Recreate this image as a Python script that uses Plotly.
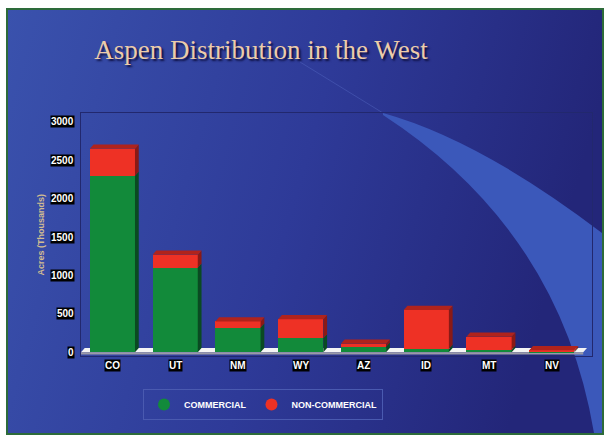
import base64
import plotly.graph_objects as go

# ---- data ----
categories = ["CO", "UT", "NM", "WY", "AZ", "ID", "MT", "NV"]
commercial = [2300, 1100, 320, 180, 70, 40, 30, 5]
non_commercial = [350, 170, 80, 250, 40, 510, 170, 20]
y_ticks = [0, 500, 1000, 1500, 2000, 2500, 3000]

W, H = 606, 440
ML, MR, MT, MB = 81, 14, 113, 84
PW, PH = W - ML - MR, H - MT - MB

GREEN, RED = "#128a3a", "#ee3125"
GREEN_SIDE, RED_SIDE, RED_TOP = "#0a4a22", "#8a1a16", "#b0231c"
BAR_W, DX, DY = 0.72, 0.06, 55

# ---- background as an svg image ----
svg = f'''<svg xmlns="http://www.w3.org/2000/svg" width="{W}" height="{H}" viewBox="0 0 {W} {H}">
<defs><linearGradient id="g" x1="0" y1="0" x2="1" y2="0.2">
<stop offset="0" stop-color="#3a52ad"/><stop offset="0.55" stop-color="#2e3a98"/><stop offset="1" stop-color="#232679"/>
</linearGradient></defs>
<rect width="{W}" height="{H}" fill="#ffffff"/>
<rect x="7" y="9" width="596" height="425" fill="url(#g)" stroke="#2d6b3a" stroke-width="2"/>
<path d="M383,113 Q480,140 602,233 L602,433 L594,433 Q560,230 383,115 Z" fill="#3b58ba"/>
<path d="M300,62 L383,113" stroke="#5a6fc8" stroke-width="1" opacity="0.4"/>
</svg>'''
src = "data:image/svg+xml;base64," + base64.b64encode(svg.encode()).decode()

fig = go.Figure()
xs = list(range(len(categories)))
fig.add_trace(go.Bar(x=xs, y=commercial, name="COMMERCIAL", marker_color=GREEN,
                     width=BAR_W, showlegend=False, marker_line_width=0))
fig.add_trace(go.Bar(x=xs, y=non_commercial, name="NON-COMMERCIAL", marker_color=RED,
                     width=BAR_W, showlegend=False, marker_line_width=0))
# legend entries with round markers
fig.add_trace(go.Scatter(x=[None], y=[None], mode="markers", name="<b>COMMERCIAL</b>",
                         marker=dict(color=GREEN, size=6, symbol="circle")))
fig.add_trace(go.Scatter(x=[None], y=[None], mode="markers", name="<b>NON-COMMERCIAL</b>",
                         marker=dict(color=RED, size=6, symbol="circle")))

shapes = []
# floor
shapes.append(dict(type="path", xref="x", yref="y", layer="below",
                   path=f"M -0.5,0 L {len(categories)-0.5},0 L {len(categories)-0.5+DX},{DY} L {-0.5+DX},{DY} Z",
                   fillcolor="#f4f4f4", line_width=0))
shapes.append(dict(type="rect", xref="x", yref="y", layer="below",
                   x0=-0.5, x1=len(categories) - 0.5, y0=-30, y1=0,
                   fillcolor="#9a9aa8", line_width=0))
for i, (c, n) in enumerate(zip(commercial, non_commercial)):
    t = c + n
    x0, x1 = i - BAR_W / 2, i + BAR_W / 2
    shapes.append(dict(type="path", xref="x", yref="y", layer="above", line_width=0,
                       fillcolor=GREEN_SIDE,
                       path=f"M {x1},0 L {x1},{c} L {x1+DX},{c+DY} L {x1+DX},{DY} Z"))
    shapes.append(dict(type="path", xref="x", yref="y", layer="above", line_width=0,
                       fillcolor=RED_SIDE,
                       path=f"M {x1},{c} L {x1},{t} L {x1+DX},{t+DY} L {x1+DX},{c+DY} Z"))
    shapes.append(dict(type="path", xref="x", yref="y", layer="above", line_width=0,
                       fillcolor=RED_TOP,
                       path=f"M {x0},{t} L {x0+DX},{t+DY} L {x1+DX},{t+DY} L {x1},{t} Z"))

annotations = []
tick_font = dict(family="Liberation Sans, Arial", size=10, color="#ffffff")
for v in y_ticks:
    annotations.append(dict(x=0, xref="paper", y=v, yref="y", text=f"<b>{v}</b>",
                            showarrow=False, xanchor="right", xshift=-6,
                            bgcolor="#000000", borderpad=0, font=tick_font))
for i, cat in enumerate(categories):
    annotations.append(dict(x=i, xref="x", y=0, yref="paper", text=f"<b>{cat}</b>",
                            showarrow=False, yanchor="top", yshift=-3,
                            bgcolor="#000000", borderpad=0, font=tick_font))
annotations.append(dict(x=(33 - ML) / PW, xref="paper", y=0.5, yref="paper",
                        text="<b>Acres (Thousands)</b>", textangle=-90, showarrow=False,
                        font=dict(family="Liberation Sans, Arial", size=9, color="#d2bc92")))

fig.update_layout(
    width=W, height=H,
    margin=dict(l=ML, r=MR, t=MT, b=MB, autoexpand=False),
    paper_bgcolor="#ffffff", plot_bgcolor="rgba(0,0,0,0)",
    barmode="stack", bargap=0.28,
    title=dict(text="Aspen Distribution in the West", x=261 / W, xanchor="center",
               y=1 - 50 / H, yanchor="middle",
               font=dict(family="Liberation Serif, Times New Roman", size=27, color="#ecccaa",
                         shadow="2px 2px 2px #0d0f40")),
    xaxis=dict(range=[-0.5, len(categories) - 0.36], showticklabels=False, showgrid=False,
               zeroline=False, showline=True, mirror=True, linecolor="#22286e", linewidth=1,
               ticks=""),
    yaxis=dict(range=[-50, 3117], showticklabels=False, showgrid=False, zeroline=False,
               showline=True, mirror=True, linecolor="#22286e", linewidth=1, ticks=""),
    legend=dict(orientation="h", x=(263 - ML) / PW, xanchor="center",
                y=-33 / PH, yanchor="top", traceorder="normal",
                bgcolor="rgba(0,0,0,0)", bordercolor="#4a5ab0", borderwidth=1,
                font=dict(family="Liberation Sans, Arial", size=9, color="#ffffff"),
                itemsizing="constant", itemwidth=30),
    images=[dict(source=src, xref="paper", yref="paper",
                 x=-ML / PW, y=1 + MT / PH, sizex=W / PW, sizey=H / PH,
                 xanchor="left", yanchor="top", sizing="stretch", layer="below")],
    shapes=shapes, annotations=annotations,
)
fig.write_html("out.html", config={"displayModeBar": False},
               post_script="document.body.style.margin='0';")
